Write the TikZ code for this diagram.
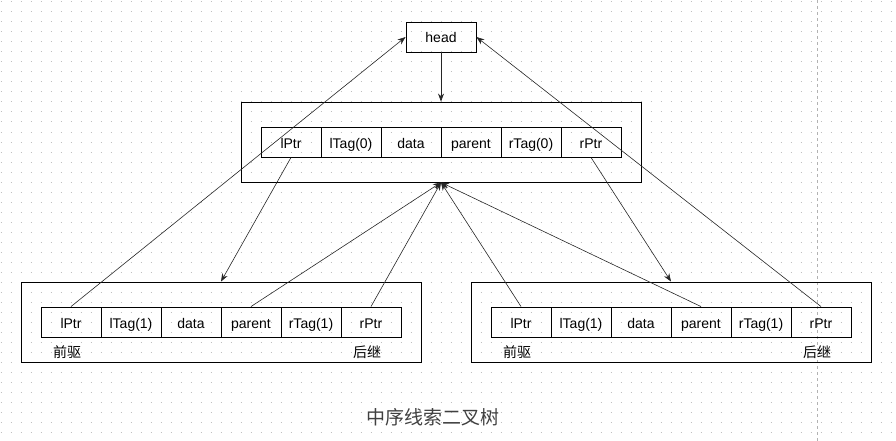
\documentclass[tikz,border=0pt]{standalone}
\usepackage{fontspec}
\setmainfont{Liberation Sans}
\newfontfamily\cjk{Noto Sans CJK SC}
\usetikzlibrary{arrows.meta}

\tikzset{
    cell/.style={draw, line width=0.9pt, minimum width=60pt, minimum height=30pt, inner sep=0pt, text height=12pt, text depth=0pt, font=\fontsize{14}{16}\selectfont},
    frame/.style={draw, line width=0.9pt, minimum width=400pt, minimum height=80pt, inner sep=0pt},
    link/.style={-{Stealth[length=8pt,width=6pt]}, line width=0.6pt, black!85},
    side/.style={font=\cjk\fontsize{14}{16}\selectfont}
}

\begin{document}
\begin{tikzpicture}[x=1pt, y=-1pt]
    \useasboundingbox (0,0) rectangle (896,441);
    % Grid
    \foreach \y in {2,12,...,432}
        \draw[black!25, line width=1pt, dash pattern=on 1pt off 9pt] (0.5,\y) -- (896,\y);
    \draw[black!30, line width=0.8pt, dash pattern=on 3pt off 3pt] (817,0) -- (817,441);

    % Head
    \node[cell, minimum width=70pt] (head) at (441,37) {head};

    % Root node
    \node[frame] (topbox) at (441,142) {};
    \node[cell] (tl)  at (291,142) {lPtr};
    \node[cell] (tlt) at (351,142) {lTag(0)};
    \node[cell] (td)  at (411,142) {data};
    \node[cell] (tp)  at (471,142) {parent};
    \node[cell] (trt) at (531,142) {rTag(0)};
    \node[cell] (tr)  at (591,142) {rPtr};

    % Left node
    \node[frame] (leftbox) at (221,322) {};
    \node[cell] (ll)  at (71,322)  {lPtr};
    \node[cell] (llt) at (131,322) {lTag(1)};
    \node[cell] (ld)  at (191,322) {data};
    \node[cell] (lp)  at (251,322) {parent};
    \node[cell] (lrt) at (311,322) {rTag(1)};
    \node[cell] (lr)  at (371,322) {rPtr};
    \node[side] (lpre)  at (67,352)  {前驱};
    \node[side] (lsucc) at (367,352) {后继};

    % Right node
    \node[frame] (rightbox) at (671,322) {};
    \node[cell] (rl)  at (521,322) {lPtr};
    \node[cell] (rlt) at (581,322) {lTag(1)};
    \node[cell] (rd)  at (641,322) {data};
    \node[cell] (rp)  at (701,322) {parent};
    \node[cell] (rrt) at (761,322) {rTag(1)};
    \node[cell] (rr)  at (821,322) {rPtr};
    \node[side] (rpre)  at (517,352) {前驱};
    \node[side] (rsucc) at (817,352) {后继};

    % Arrows
    \draw[link] (head.south) -- (topbox.north);
    \draw[link] (tl.south) -- (leftbox.north);
    \draw[link] (tr.south) -- (rightbox.north);
    \draw[link] (ll.north) -- (head.west);
    \draw[link] (rr.north) -- (head.east);
    \draw[link] (lp.north) -- (topbox.south);
    \draw[link] (lr.north) -- (topbox.south);
    \draw[link] (rl.north) -- (topbox.south);
    \draw[link] (rp.north) -- (topbox.south);

    % Title
    \node[font=\cjk\fontsize{19}{21}\selectfont, text=black!75] (title) at (433,417) {中序线索二叉树};
\end{tikzpicture}
\end{document}
